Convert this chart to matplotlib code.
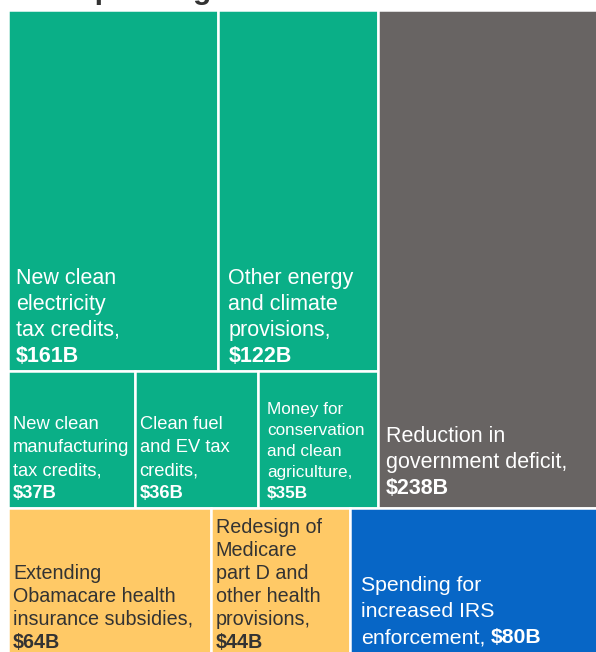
import matplotlib
matplotlib.use("Agg")
import matplotlib.pyplot as plt
from matplotlib.patches import Rectangle

plt.rcParams['font.family'] = ['Liberation Sans', 'DejaVu Sans']

# Données (milliards de dollars)
labels = [
    ["New clean", "electricity", "tax credits,"],
    ["Other energy", "and climate", "provisions,"],
    ["New clean", "manufacturing", "tax credits,"],
    ["Clean fuel", "and EV tax", "credits,"],
    ["Money for", "conservation", "and clean", "agriculture,"],
    ["Reduction in", "government deficit,"],
    ["Extending", "Obamacare health", "insurance subsidies,"],
    ["Redesign of", "Medicare", "part D and", "other health", "provisions,"],
    ["Spending for", "increased IRS", "enforcement,"],
]
values = [161, 122, 37, 36, 35, 238, 64, 44, 80]
value_text = ["$161B", "$122B", "$37B", "$36B", "$35B", "$238B", "$64B", "$44B", "$80B"]
inline_value = [False] * 8 + [True]

# Groupes du treemap (indices)
green_top = [0, 1]
green_bottom = [2, 3, 4]
gray = [5]
bottom_row = [6, 7, 8]

# Styles
GREEN = '#0aaf87'
GRAY = '#686463'
YELLOW = '#ffc966'
BLUE = '#0766c6'
colors = [GREEN] * 5 + [GRAY, YELLOW, YELLOW, BLUE]
text_colors = ['white'] * 6 + ['#333333', '#333333', 'white']
font_sizes = [15.5, 15.5, 13.2, 13.2, 12.3, 15.5, 14.2, 14.2, 15.3]
line_sp = [1.2, 1.2, 1.27, 1.27, 1.23, 1.21, 1.17, 1.17, 1.22]
pad_x = [8, 10, 5, 5, 9, 8, 5, 5, 11]      # pixels
pad_y = [6.5, 6.5, 7, 7, 7, 10, 6.5, 6.5, 10]  # points


def tot(idx):
    return sum(values[i] for i in idx)


total = tot(green_top + green_bottom + gray + bottom_row)
top_total = tot(green_top + green_bottom + gray)

# calcul des rectangles (x, y, w, h), y vers le bas
rects = {}
top_h = top_total / total
green_w = tot(green_top + green_bottom) / top_total
gt_h = top_h * tot(green_top) / tot(green_top + green_bottom)

def row(idx, x0, y0, w, h):
    x = x0
    s = tot(idx)
    for i in idx:
        ww = w * values[i] / s
        rects[i] = (x, y0, ww, h)
        x += ww

row(green_top, 0, 0, green_w, gt_h)
row(green_bottom, 0, gt_h, green_w, top_h - gt_h)
row(gray, green_w, 0, 1 - green_w, top_h)
row(bottom_row, 0, top_h, 1, 1 - top_h)

W, H = 596, 652
fig = plt.figure(figsize=(W / 100, H / 100), dpi=100)
ax = fig.add_axes([8 / W, -5 / H, 595 / W, 647 / H])
ax.set_xlim(0, 1)
ax.set_ylim(1, 0)
ax.axis('off')

for i in range(len(values)):
    x, y, w, h = rects[i]
    ax.add_patch(Rectangle((x, y), w, h, facecolor=colors[i],
                           edgecolor='white', linewidth=1.8, clip_on=False))
    fs = font_sizes[i]
    sp = fs * line_sp[i]
    px = pad_x[i] * 0.72
    lines = labels[i]
    n = len(lines) if inline_value[i] else len(lines) + 1
    for k, line in enumerate(lines):
        off = pad_y[i] + (n - 1 - k) * sp
        t = ax.annotate(line, (x, y + h), xytext=(px, off), textcoords='offset points',
                        va='baseline', ha='left', fontsize=fs, color=text_colors[i])
    if inline_value[i]:
        ax.annotate(value_text[i], (1, y + h), xycoords=(t, 'data'),
                    xytext=(4, pad_y[i]), textcoords='offset points',
                    va='baseline', ha='left', fontsize=fs, fontweight='bold',
                    color=text_colors[i])
    else:
        ax.annotate(value_text[i], (x, y + h), xytext=(px, pad_y[i]), textcoords='offset points',
                    va='baseline', ha='left', fontsize=fs, fontweight='bold',
                    color=text_colors[i])

# titre coupé en haut
fig.text(8 / W, 1 + 1 / H, "New spending", fontsize=21.6, fontweight='bold',
         color='#333333', va='baseline', ha='left')

fig.savefig('out.png', dpi=100)
